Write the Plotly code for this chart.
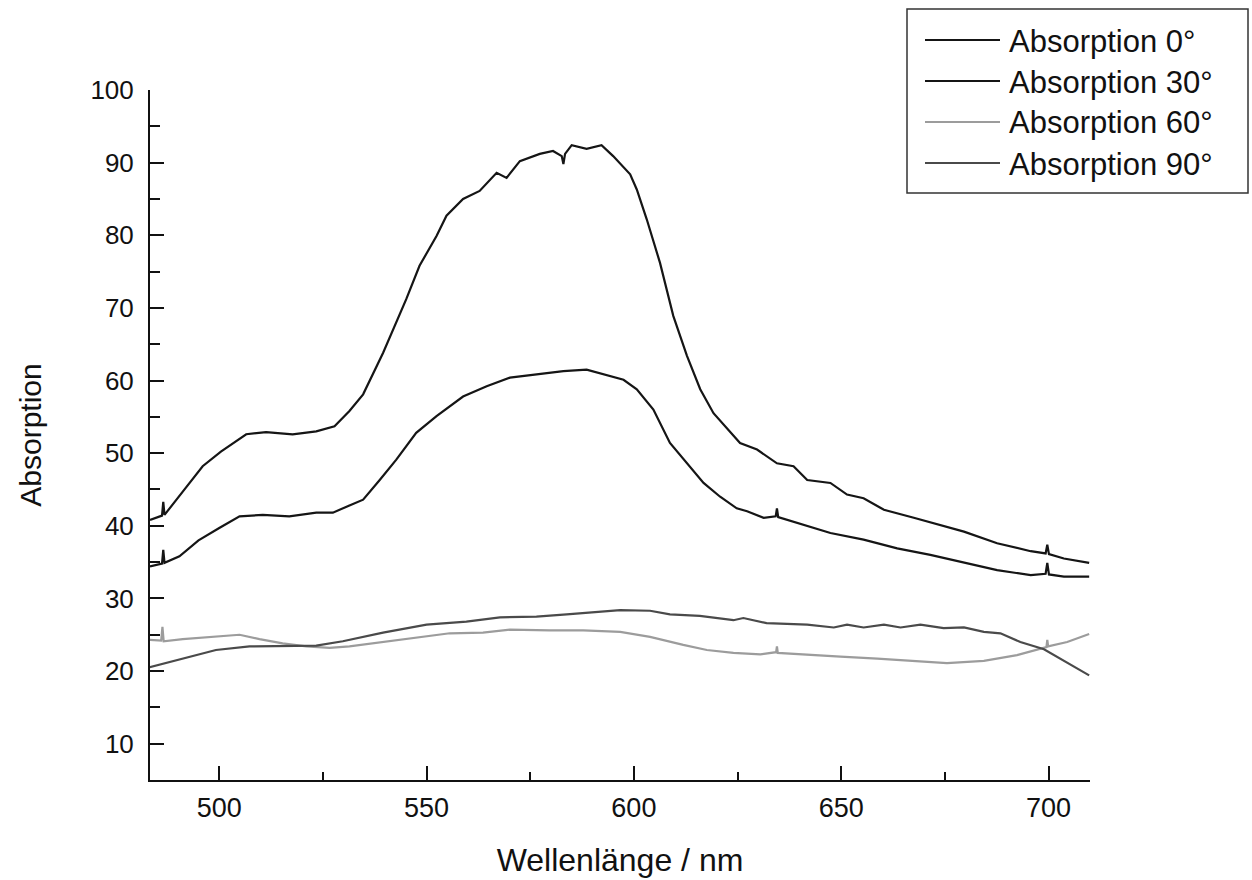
import plotly.graph_objects as go

# ---- data ----
names = ["Absorption 0°", "Absorption 30°", "Absorption 60°", "Absorption 90°"]

wl_0 = [483.3, 485.0, 486.2, 486.5, 486.8, 491.2, 496.0, 500.4, 504.0, 506.5, 511.3, 517.7, 523.4, 527.8,
        531.4, 534.7, 539.5, 543.1, 545.1, 548.3, 552.4, 554.8, 558.8, 562.8, 566.9, 569.3, 572.5, 577.3,
        580.5, 582.6, 583.0, 583.4, 585.0, 588.6, 592.2, 595.0, 599.1, 600.7, 603.1, 606.3, 609.5, 612.8,
        616.0, 619.2, 625.6, 629.7, 634.5, 638.5, 641.8, 647.4, 651.4, 655.4, 660.3, 667.5, 673.9, 679.6,
        687.6, 695.7, 699.3, 699.7, 700.1, 703.7, 709.8]
abs_0 = [40.8, 41.2, 41.4, 43.3, 41.5, 44.7, 48.2, 50.2, 51.6, 52.6, 52.9, 52.6, 53.0, 53.7,
         55.8, 58.1, 63.8, 68.6, 71.2, 75.8, 79.9, 82.7, 85.0, 86.1, 88.6, 87.9, 90.2, 91.2,
         91.6, 90.9, 89.8, 91.2, 92.4, 91.9, 92.4, 90.9, 88.4, 86.3, 82.2, 76.2, 68.9, 63.4,
         58.8, 55.5, 51.4, 50.5, 48.6, 48.2, 46.3, 45.9, 44.3, 43.8, 42.2, 41.1, 40.1, 39.2,
         37.6, 36.5, 36.2, 37.4, 36.1, 35.5, 34.9]

wl_30 = [483.3, 485.0, 486.2, 486.5, 486.8, 490.4, 495.0, 500.0, 504.9, 510.5, 516.9, 523.4, 527.4, 531.4,
         534.7, 538.7, 542.7, 547.5, 552.4, 558.8, 564.5, 570.1, 576.5, 583.0, 588.6, 593.4, 597.5, 600.7,
         604.7, 608.7, 612.8, 616.8, 620.8, 624.8, 627.3, 631.3, 634.2, 634.5, 634.8, 641.0, 647.4, 655.4,
         663.5, 671.5, 679.6, 687.6, 695.7, 699.3, 699.7, 700.1, 703.7, 709.8]
abs_30 = [34.4, 34.6, 34.8, 36.7, 34.9, 35.8, 38.0, 39.7, 41.3, 41.5, 41.3, 41.8, 41.8, 42.8,
          43.6, 46.3, 49.1, 52.8, 55.1, 57.8, 59.2, 60.4, 60.8, 61.3, 61.5, 60.8, 60.1, 58.8,
          56.0, 51.4, 48.6, 45.9, 44.0, 42.4, 42.0, 41.1, 41.3, 42.4, 41.2, 40.1, 39.0, 38.1,
          36.9, 36.0, 34.9, 33.9, 33.2, 33.4, 34.9, 33.3, 33.0, 33.0]

wl_60 = [483.1, 486.0, 486.3, 486.6, 491.2, 499.2, 504.9, 509.7, 515.3, 521.0, 526.6, 531.4, 539.5, 547.5,
         555.6, 563.6, 570.1, 579.7, 587.8, 596.7, 603.9, 611.9, 617.6, 624.0, 630.5, 634.3, 634.5, 634.7,
         641.8, 649.8, 658.7, 668.3, 675.5, 684.4, 692.4, 699.5, 699.7, 699.9, 704.5, 709.8]
abs_60 = [24.3, 24.2, 26.1, 24.1, 24.4, 24.7, 25.0, 24.4, 23.8, 23.4, 23.2, 23.4, 24.0, 24.6,
          25.2, 25.3, 25.7, 25.6, 25.6, 25.4, 24.7, 23.6, 22.9, 22.5, 22.3, 22.6, 23.4, 22.5,
          22.3, 22.0, 21.7, 21.4, 21.1, 21.4, 22.2, 23.3, 24.3, 23.4, 24.0, 25.1]

wl_90 = [483.1, 491.2, 499.2, 507.3, 515.3, 523.4, 529.8, 539.5, 550.0, 559.6, 567.7, 576.5, 583.8, 590.2,
         596.7, 603.9, 608.7, 615.9, 624.0, 626.4, 632.0, 641.8, 648.2, 651.4, 655.4, 660.3, 664.3, 669.1,
         674.7, 679.6, 684.4, 688.4, 693.2, 698.9, 704.5, 709.8]
abs_90 = [20.5, 21.7, 22.9, 23.4, 23.4, 23.5, 24.1, 25.3, 26.4, 26.8, 27.4, 27.5, 27.8, 28.1,
          28.4, 28.3, 27.8, 27.6, 27.0, 27.3, 26.6, 26.4, 26.0, 26.4, 26.0, 26.4, 26.0, 26.4,
          25.9, 26.0, 25.4, 25.2, 24.0, 23.0, 21.1, 19.4]

x_ticks = [500, 550, 600, 650, 700]
y_ticks = [10, 20, 30, 40, 50, 60, 70, 80, 90, 100]

# ---- styling ----
colors = ["#151515", "#151515", "#9c9c9c", "#4a4a4a"]
FONT = "Liberation Sans, Arial, Helvetica, sans-serif"
W, H = 1252, 880
L, R, T, B = 150, 1090, 90, 780  # plot area in pixels

fig = go.Figure()
for wl, ab, nm, c in zip([wl_0, wl_30, wl_60, wl_90], [abs_0, abs_30, abs_60, abs_90], names, colors):
    fig.add_trace(go.Scatter(x=wl, y=ab, mode="lines", name=nm,
                             line=dict(color=c, width=2.2), showlegend=False))


def xp(px):
    return (px - L) / (R - L)


def yp(py):
    return (B - py) / (B - T)


shapes = [dict(type="rect", xref="paper", yref="paper",
               x0=xp(907), x1=xp(1248), y0=yp(193), y1=yp(9),
               line=dict(color="#333333", width=1.5), fillcolor="white", layer="above")]
annotations = []
for i, (nm, c) in enumerate(zip(names, colors)):
    ly = [40, 81, 122, 163][i]
    shapes.append(dict(type="line", xref="paper", yref="paper",
                       x0=xp(925), x1=xp(1000), y0=yp(ly), y1=yp(ly),
                       line=dict(color=c, width=2.2), layer="above"))
    annotations.append(dict(xref="paper", yref="paper", x=xp(1007), y=yp(ly + 1),
                            text=nm, showarrow=False, xanchor="left", yanchor="middle",
                            font=dict(family=FONT, size=31, color="#111111")))

fig.update_layout(
    width=W, height=H,
    margin=dict(l=L, r=W - R, t=T, b=H - B, autoexpand=False),
    paper_bgcolor="white", plot_bgcolor="white",
    font=dict(family=FONT, color="#111111"),
    shapes=shapes, annotations=annotations,
)
fig.update_xaxes(
    range=[483.3, 710.0], tickvals=x_ticks, ticktext=[str(v) for v in x_ticks],
    showline=True, linecolor="#111111", linewidth=2, mirror=False,
    ticks="inside", ticklen=14, tickwidth=2, tickcolor="#111111",
    minor=dict(dtick=25, tick0=475, ticks="inside", ticklen=8, tickwidth=2, tickcolor="#111111"),
    showgrid=False, zeroline=False, ticklabelstandoff=3,
    tickfont=dict(family=FONT, size=27, color="#111111"),
    title=dict(text="Wellenlänge / nm", font=dict(family=FONT, size=32, color="#111111"), standoff=26),
)
fig.update_yaxes(
    range=[5, 100], tickvals=y_ticks, ticktext=[str(v) for v in y_ticks],
    showline=True, linecolor="#111111", linewidth=2, mirror=False,
    ticks="inside", ticklen=14, tickwidth=2, tickcolor="#111111",
    minor=dict(dtick=5, tick0=5, ticks="inside", ticklen=10, tickwidth=2, tickcolor="#111111"),
    showgrid=False, zeroline=False, ticklabelstandoff=9,
    tickfont=dict(family=FONT, size=26, color="#111111"),
    title=dict(text="Absorption", font=dict(family=FONT, size=30, color="#111111"), standoff=40),
)

# remove the default 8px body margin so the figure sits at the page origin
fig.write_html("out.html", config={"displayModeBar": False},
               post_script="document.body.style.margin='0';")
